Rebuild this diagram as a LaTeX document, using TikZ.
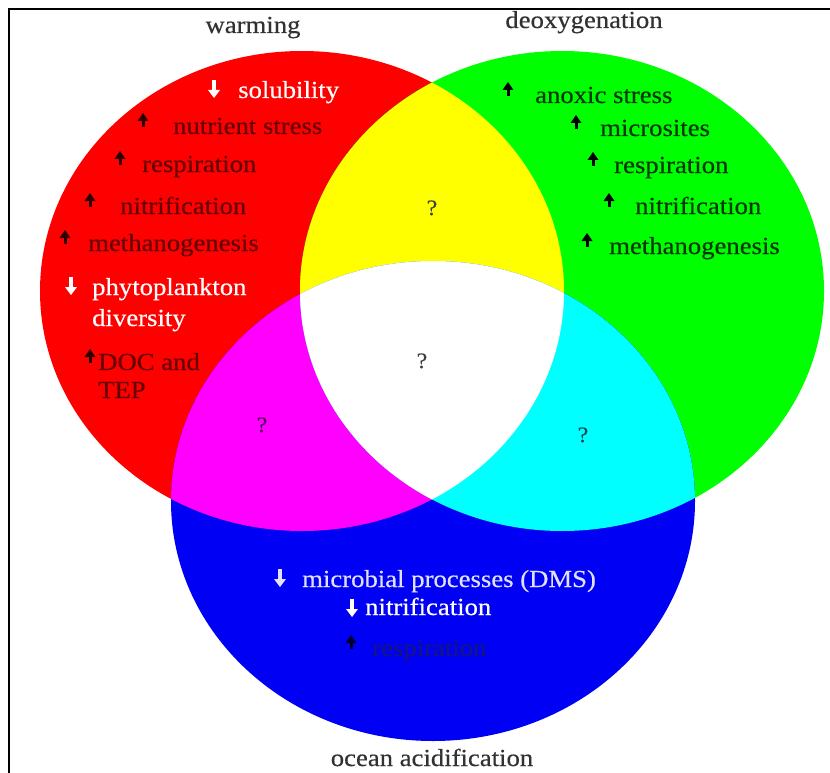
\documentclass[tikz,border=0pt]{standalone}
\usepackage{fontspec}
\setmainfont[FakeStretch=1.09,FakeBold=0.4]{Liberation Serif}
\begin{document}
\begin{tikzpicture}[x=1pt,y=-1pt,
  lbl/.style={inner sep=0pt,anchor=base west,font=\fontsize{24.5}{28}\selectfont},
  ttl/.style={inner sep=0pt,anchor=base,font=\fontsize{24.5}{28}\selectfont,text=titlegray},
  qm/.style={inner sep=0pt,anchor=base,font=\fontsize{22}{26}\selectfont},
  uparr/.pic={\fill (-1.5,-7) rectangle (1.5,-15);
              \fill (-5.5,-13) -- (5.5,-13) -- (0,-21) -- cycle;},
  dnarr/.pic={\fill (-1.6,-18) rectangle (1.6,-6);
              \fill (-6,-8) -- (6,-8) -- (0,0) -- cycle;}]
\definecolor{vred}{RGB}{255,0,0}
\definecolor{vgreen}{RGB}{0,255,0}
\definecolor{vblue}{RGB}{0,0,245}
\definecolor{vyellow}{RGB}{255,255,0}
\definecolor{vmag}{RGB}{255,0,255}
\definecolor{vcyan}{RGB}{0,255,255}
\definecolor{titlegray}{RGB}{50,50,50}
\definecolor{darkred}{RGB}{100,0,0}
\definecolor{arrred}{RGB}{45,0,0}
\definecolor{darkgreen}{RGB}{0,55,0}
\definecolor{lightblue}{RGB}{225,225,255}
\definecolor{darkblue}{RGB}{20,20,130}
\useasboundingbox (0,0) rectangle (830,773);
\fill[white] (0,0) rectangle (830,773);
\draw[line width=1.2pt] (9,773) -- (9,9) -- (830,9);
% circles
\def\redE{(302,291) ellipse [x radius=262, y radius=240]}
\def\greenE{(562,291) ellipse [x radius=262, y radius=240]}
\def\blueE{(433,501) ellipse [x radius=262, y radius=240]}
\fill[vred] \redE;
\fill[vgreen] \greenE;
\fill[vblue] \blueE;
\begin{scope}\clip \redE; \fill[vyellow] \greenE; \end{scope}
\begin{scope}\clip \redE; \fill[vmag] \blueE; \end{scope}
\begin{scope}\clip \greenE; \fill[vcyan] \blueE; \end{scope}
\begin{scope}\clip \redE; \clip \greenE; \fill[white] \blueE; \end{scope}
% titles
\node[ttl] (tw) at (253,33) {warming};
\node[ttl] (td) at (584,28) {deoxygenation};
\node[ttl] (to) at (432,766) {ocean acidification};
% red labels
\pic[color=white] at (214,98) {dnarr};
\node[lbl,text=white] (rt1) at (238,98) {solubility};
\pic[color=arrred] at (143,134) {uparr};
\node[lbl,text=darkred] (rt2) at (173,134) {nutrient stress};
\pic[color=arrred] at (120,172) {uparr};
\node[lbl,text=darkred] (rt3) at (142,172) {respiration};
\pic[color=arrred] at (90,214) {uparr};
\node[lbl,text=darkred] (rt4) at (120,214) {nitrification};
\pic[color=arrred] at (65,251) {uparr};
\node[lbl,text=darkred] (rt5) at (88,251) {methanogenesis};
\pic[color=white] at (71,295) {dnarr};
\node[lbl,text=white] (rt6) at (92,295) {phytoplankton};
\node[lbl,text=white] (rt6b) at (92,326) {diversity};
\pic[color=arrred] at (90,370) {uparr};
\node[lbl,text=darkred] (rt7) at (98,370) {DOC and};
\node[lbl,text=darkred] (rt7b) at (98,398) {TEP};
% green labels
\pic[color=black] at (508,103) {uparr};
\node[lbl,text=darkgreen] (gt1) at (535,103) {anoxic stress};
\pic[color=black] at (576,136) {uparr};
\node[lbl,text=darkgreen] (gt2) at (600,136) {microsites};
\pic[color=black] at (593,173) {uparr};
\node[lbl,text=darkgreen] (gt3) at (614,173) {respiration};
\pic[color=black] at (609,214) {uparr};
\node[lbl,text=darkgreen] (gt4) at (635,214) {nitrification};
\pic[color=black] at (587,254) {uparr};
\node[lbl,text=darkgreen] (gt5) at (609,254) {methanogenesis};
% blue labels
\pic[color=lightblue] at (280,587) {dnarr};
\node[lbl,text=lightblue] (bt1) at (302,587) {microbial processes (DMS)};
\pic[color=white] at (352,617) {dnarr};
\node[lbl,text=white] (bt2) at (365,615) {nitrification};
\pic[color=black!85!blue] at (351,656) {uparr};
\node[lbl,text=darkblue] (bt3) at (372,656) {respiration};
% question marks
\node[qm,text=black!75] (q1) at (432,215) {?};
\node[qm,text=black!75] (q2) at (422,368) {?};
\node[qm,text={rgb,255:red,90;green,0;blue,90}] (q3) at (262,432) {?};
\node[qm,text={rgb,255:red,0;green,80;blue,80}] (q4) at (583,442) {?};
\end{tikzpicture}
\end{document}
